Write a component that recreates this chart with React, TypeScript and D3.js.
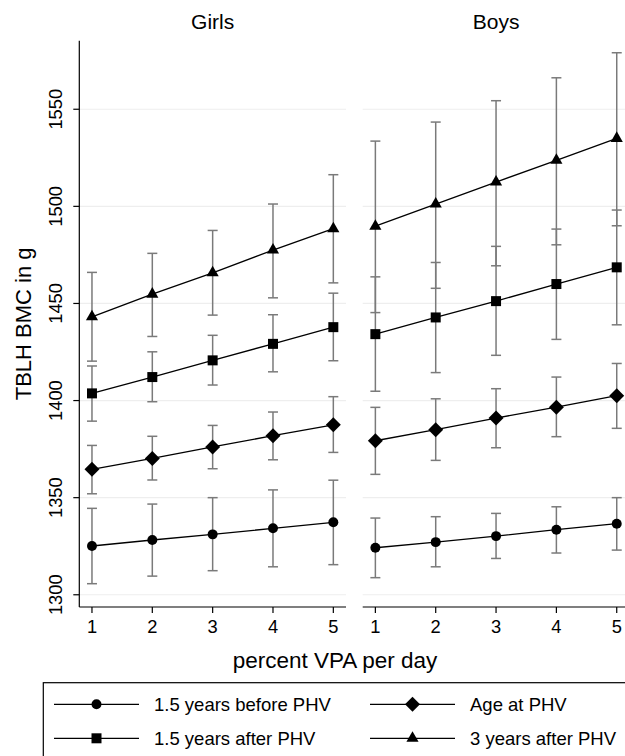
import React from 'react';
import * as d3 from 'd3';

// percent VPA per day
const xValues = [1, 2, 3, 4, 5];
const yTicks = [1300, 1350, 1400, 1450, 1500, 1550];
const panelNames = ['Girls', 'Boys'];

// Girls: estimate, lower CI, upper CI
const girlsBefore = [1325.1, 1328.2, 1331.1, 1334.2, 1337.3];
const girlsBeforeLo = [1305.7, 1309.6, 1312.4, 1314.4, 1315.5];
const girlsBeforeHi = [1344.5, 1346.7, 1350, 1354, 1359];
const girlsAt = [1364.6, 1370.2, 1376.1, 1381.9, 1387.5];
const girlsAtLo = [1352, 1359.1, 1364.9, 1369.5, 1373.3];
const girlsAtHi = [1376.9, 1381.6, 1387.2, 1394.1, 1402];
const girlsAfter15 = [1403.7, 1412.1, 1420.7, 1429.2, 1437.8];
const girlsAfter15Lo = [1389.4, 1399.4, 1408, 1414.8, 1420.5];
const girlsAfter15Hi = [1417.8, 1425.1, 1433.6, 1444.2, 1455.3];
const girlsAfter3 = [1443.1, 1454.8, 1465.8, 1477.5, 1488.5];
const girlsAfter3Lo = [1420.3, 1433, 1444, 1452.9, 1460.6];
const girlsAfter3Hi = [1466, 1475.8, 1487.6, 1501.2, 1516.3];

// Boys
const boysBefore = [1324.2, 1327.1, 1330.2, 1333.5, 1336.6];
const boysBeforeLo = [1308.8, 1314.4, 1318.7, 1321.5, 1323];
const boysBeforeHi = [1339.5, 1340.2, 1341.9, 1345.3, 1350];
const boysAt = [1379.3, 1385, 1391, 1396.6, 1402.5];
const boysAtLo = [1362, 1369.2, 1375.7, 1381.4, 1385.7];
const boysAtHi = [1396.5, 1400.9, 1406.1, 1412.1, 1419.1];
const boysAfter15 = [1434.2, 1442.8, 1451.2, 1460, 1468.6];
const boysAfter15Lo = [1404.8, 1414.4, 1423.3, 1431.5, 1439];
const boysAfter15Hi = [1463.7, 1471.1, 1479.4, 1488.3, 1498.1];
const boysAfter3 = [1489.8, 1501.2, 1512.5, 1523.7, 1535];
const boysAfter3Lo = [1445.3, 1457.8, 1469.4, 1480.2, 1490];
const boysAfter3Hi = [1533.6, 1543.4, 1554.4, 1566.2, 1579.1];

const seriesLabels = ['1.5 years before PHV', 'Age at PHV', '1.5 years after PHV', '3 years after PHV'];
const seriesSymbols = ['circle', 'diamond', 'square', 'triangle'];

const panels = [
  [
    { est: girlsBefore, lo: girlsBeforeLo, hi: girlsBeforeHi },
    { est: girlsAt, lo: girlsAtLo, hi: girlsAtHi },
    { est: girlsAfter15, lo: girlsAfter15Lo, hi: girlsAfter15Hi },
    { est: girlsAfter3, lo: girlsAfter3Lo, hi: girlsAfter3Hi },
  ],
  [
    { est: boysBefore, lo: boysBeforeLo, hi: boysBeforeHi },
    { est: boysAt, lo: boysAtLo, hi: boysAtHi },
    { est: boysAfter15, lo: boysAfter15Lo, hi: boysAfter15Hi },
    { est: boysAfter3, lo: boysAfter3Lo, hi: boysAfter3Hi },
  ],
];

const FONT = '"Liberation Sans", Arial, Helvetica, sans-serif';
const W = 625, H = 756;
const top = 40.7, bottom = 607;
const panelLeft = [79.3, 362.7];
const panelWidth = 266.7;

function markerPath(kind: string) {
  if (kind === 'circle') return d3.symbol(d3.symbolCircle, 78)();
  if (kind === 'square') return d3.symbol(d3.symbolSquare, 100)();
  if (kind === 'diamond') return d3.symbol(d3.symbolSquare, 112)();
  return d3.symbol(d3.symbolTriangle, 64)();
}

const Marker = ({ kind, x, y }: { kind: string; x: number; y: number }) => (
  <path
    d={markerPath(kind) as string}
    transform={`translate(${x},${y})` + (kind === 'diamond' ? ' rotate(45)' : '')}
    fill="#000"
  />
);

export default function App() {
  const y = d3.scaleLinear().domain([1293.7, 1585.3]).range([bottom, top]);
  const grey = '#7a7a7a';

  return (
    <svg width={W} height={H} style={{ position: 'absolute', left: 0, top: 0, background: '#fff' }} fontFamily={FONT}>
      <rect width={W} height={H} fill="#fff" />
      {panels.map((series, pi) => {
        const x = d3.scaleLinear().domain([0.79, 5.21]).range([panelLeft[pi], panelLeft[pi] + panelWidth]);
        const line = d3.line<number>().x((_, i) => x(xValues[i])).y(d => y(d));
        return (
          <g key={pi}>
            {yTicks.map(t => (
              <line key={t} x1={x.range()[0]} x2={x.range()[1]} y1={y(t)} y2={y(t)} stroke="#eeeeee" strokeWidth={1.2} />
            ))}
            <text x={(x.range()[0] + x.range()[1]) / 2} y={29.3} fontSize={21} textAnchor="middle">{panelNames[pi]}</text>
            {/* confidence intervals */}
            {series.map((s, si) => xValues.map((xv, i) => (
              <g key={`${si}-${i}`} stroke={grey} strokeWidth={1.5}>
                <line x1={x(xv)} x2={x(xv)} y1={y(s.lo[i])} y2={y(s.hi[i])} />
                <line x1={x(xv) - 5} x2={x(xv) + 5} y1={y(s.lo[i])} y2={y(s.lo[i])} />
                <line x1={x(xv) - 5} x2={x(xv) + 5} y1={y(s.hi[i])} y2={y(s.hi[i])} />
              </g>
            )))}
            {series.map((s, si) => (
              <path key={si} d={line(s.est) as string} fill="none" stroke="#000" strokeWidth={1.3} />
            ))}
            {series.map((s, si) => s.est.map((v, i) => (
              <Marker key={`${si}-${i}`} kind={seriesSymbols[si]} x={x(xValues[i])} y={y(v)} />
            )))}
            {/* x axis */}
            <line x1={x.range()[0]} x2={x.range()[1]} y1={bottom} y2={bottom} stroke="#000" strokeWidth={1.2} />
            {xValues.map(xv => (
              <g key={xv}>
                <line x1={x(xv)} x2={x(xv)} y1={bottom} y2={bottom + 6} stroke="#000" strokeWidth={1.2} />
                <text x={x(xv)} y={633} fontSize={18.3} textAnchor="middle">{xv}</text>
              </g>
            ))}
          </g>
        );
      })}
      {/* y axis */}
      <line x1={panelLeft[0]} x2={panelLeft[0]} y1={top} y2={bottom} stroke="#000" strokeWidth={1.2} />
      {yTicks.map(t => (
        <g key={t}>
          <line x1={panelLeft[0] - 6} x2={panelLeft[0]} y1={y(t)} y2={y(t)} stroke="#000" strokeWidth={1.2} />
          <text transform={`translate(62,${y(t)}) rotate(-90)`} fontSize={18.3} textAnchor="middle">{t}</text>
        </g>
      ))}
      <text transform={`translate(31,${(top + bottom) / 2}) rotate(-90)`} fontSize={22} textAnchor="middle">TBLH BMC in g</text>
      <text x={335} y={668} fontSize={22.5} textAnchor="middle">percent VPA per day</text>
      {/* legend */}
      <rect x={43.3} y={682.7} width={640} height={120} fill="none" stroke="#000" strokeWidth={1.2} />
      {seriesLabels.map((lab, i) => {
        const col = i % 2, row = Math.floor(i / 2);
        const lx = col === 0 ? 54 : 370;
        const ly = row === 0 ? 704.3 : 738.3;
        return (
          <g key={lab}>
            <line x1={lx} x2={lx + 85} y1={ly} y2={ly} stroke="#000" strokeWidth={1.3} />
            <Marker kind={seriesSymbols[i]} x={lx + 42.5} y={ly} />
            <text x={lx + 100} y={ly + 6.5} fontSize={18.5}>{lab}</text>
          </g>
        );
      })}
    </svg>
  );
}
